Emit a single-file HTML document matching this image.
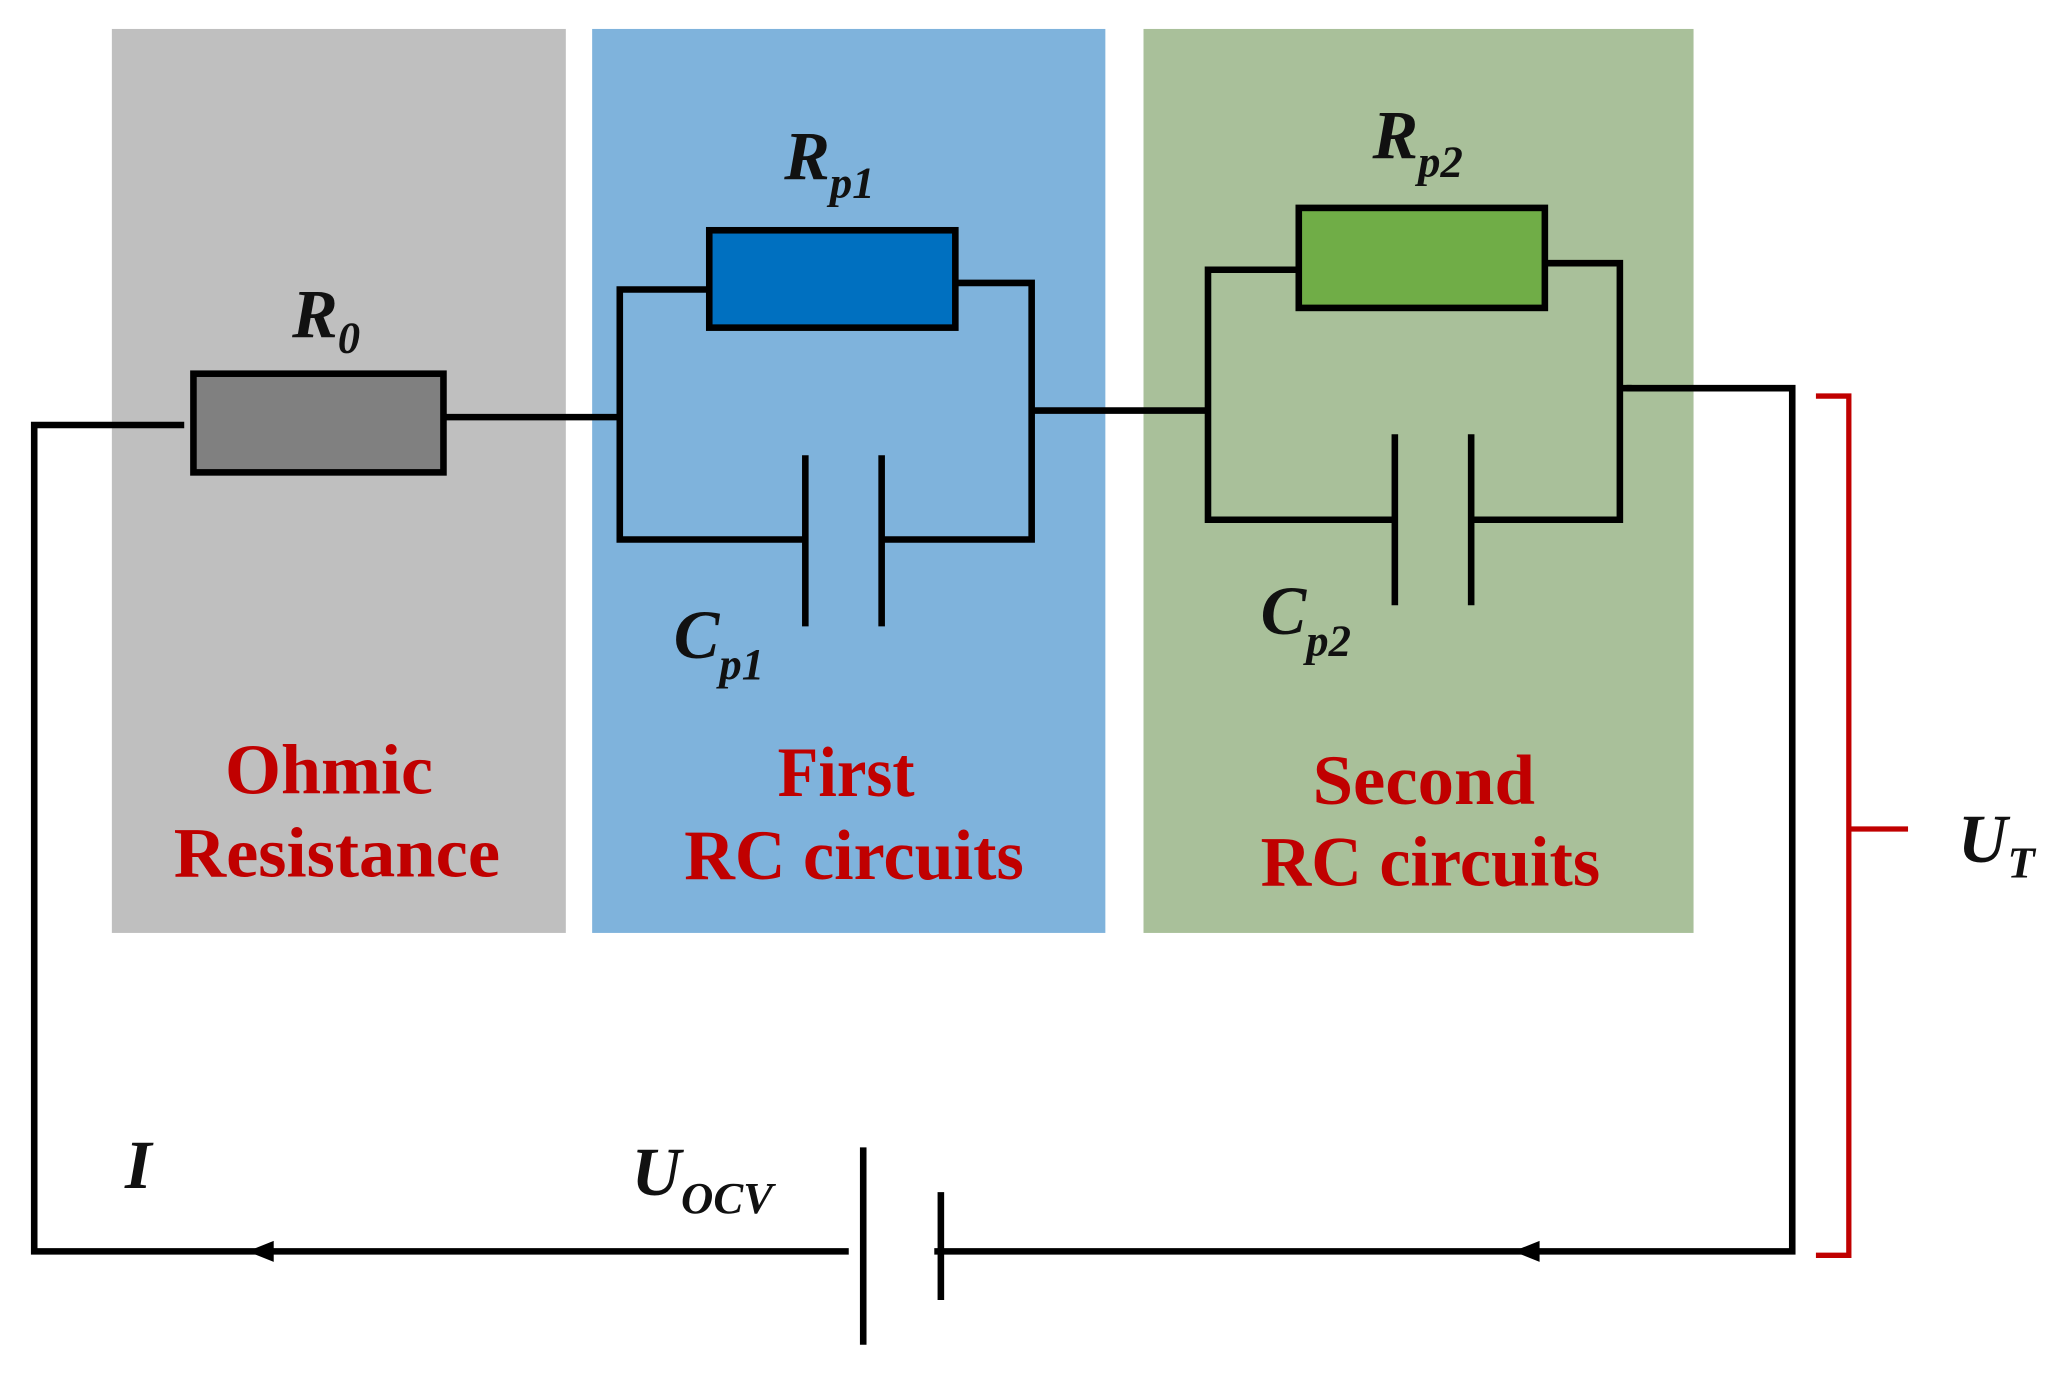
<!DOCTYPE html>
<html><head><meta charset="utf-8"><style>
html,body{margin:0;padding:0;background:#fff;}
svg{display:block;}
text{font-family:"Liberation Serif",serif;}
.lab{font-weight:bold;font-style:italic;fill:#111;}
.red{font-weight:bold;fill:#c00000;font-size:54px;text-anchor:middle;}
</style></head><body>
<svg width="2062" height="1379" viewBox="0 0 1567 1048" preserveAspectRatio="none" xmlns="http://www.w3.org/2000/svg">
<rect x="85" y="22" width="345" height="687" fill="#bfbfbf"/>
<rect x="450" y="22" width="390" height="687" fill="#7fb3dc"/>
<rect x="869" y="22" width="418" height="687" fill="#a9c09a"/>
<g stroke="#000" stroke-width="5" fill="none">
<polyline points="140,323 26,323 26,951 645,951"/>
<polyline points="710,951 1362,951 1362,295 1236,295"/>
<line x1="338" y1="317" x2="471" y2="317"/>
<polyline points="540,220 471,220 471,410 610,410"/>
<polyline points="727,215 784,215 784,410 670,410"/>
<line x1="784" y1="312" x2="918" y2="312"/>
<polyline points="987,205 918,205 918,395 1058,395"/>
<polyline points="1174,200 1231,200 1231,395 1118,395"/>
<line x1="1231" y1="295" x2="1240" y2="295"/>
<line x1="612" y1="346" x2="612" y2="476"/>
<line x1="670" y1="346" x2="670" y2="476"/>
<line x1="1060" y1="330" x2="1060" y2="460"/>
<line x1="1118" y1="330" x2="1118" y2="460"/>
<line x1="656" y1="872" x2="656" y2="1022"/>
<line x1="715" y1="906" x2="715" y2="988"/>
</g>
<rect x="147" y="284" width="190" height="75" fill="#808080" stroke="#000" stroke-width="5"/>
<rect x="539" y="175" width="187" height="74" fill="#0070c0" stroke="#000" stroke-width="5"/>
<rect x="987" y="158" width="187" height="76" fill="#70ad47" stroke="#000" stroke-width="5"/>
<polygon points="188,951 208,943 208,959" fill="#000"/>
<polygon points="1150,951 1170,943 1170,959" fill="#000"/>
<path d="M1380,301 L1405,301 L1405,630 L1450,630 M1405,630 L1405,954 L1380,954" stroke="#c00000" stroke-width="4" fill="none"/>
<text class="lab" x="222" y="256" font-size="52">R<tspan font-size="34" dy="12">0</tspan></text>
<text class="lab" x="596" y="136" font-size="52">R<tspan font-size="34" dy="14">p1</tspan></text>
<text class="lab" x="1043" y="120" font-size="52">R<tspan font-size="34" dy="14">p2</tspan></text>
<text class="lab" x="512" y="500" font-size="52">C<tspan font-size="34" dy="16">p1</tspan></text>
<text class="lab" x="958" y="482" font-size="52">C<tspan font-size="34" dy="16">p2</tspan></text>
<text class="lab" x="95" y="903" font-size="52">I</text>
<text class="lab" x="480" y="908" font-size="52">U<tspan font-size="34" dy="14">OCV</tspan></text>
<text class="lab" x="1488" y="655" font-size="52">U<tspan font-size="34" dy="12">T</tspan></text>
<text class="red" x="250" y="603" textLength="158" lengthAdjust="spacingAndGlyphs">Ohmic</text>
<text class="red" x="256" y="666" textLength="248" lengthAdjust="spacingAndGlyphs">Resistance</text>
<text class="red" x="643" y="605" textLength="104" lengthAdjust="spacingAndGlyphs">First</text>
<text class="red" x="649" y="668" textLength="258" lengthAdjust="spacingAndGlyphs">RC circuits</text>
<text class="red" x="1082" y="611" textLength="169" lengthAdjust="spacingAndGlyphs">Second</text>
<text class="red" x="1087" y="673" textLength="258" lengthAdjust="spacingAndGlyphs">RC circuits</text>
</svg>
</body></html>
